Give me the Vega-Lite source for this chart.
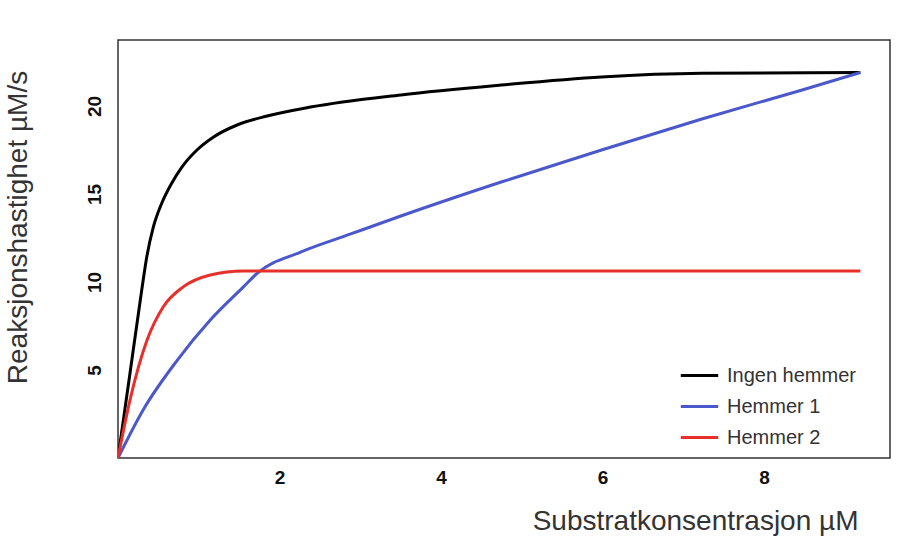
{
  "$schema": "https://vega.github.io/schema/vega-lite/v6.json",
  "width": 772,
  "height": 418,
  "autosize": "none",
  "padding": {"left": 118, "top": 40, "right": 34, "bottom": 91},
  "background": "white",
  "data": {
    "values": [
      {"s": 0, "v": 0, "serie": "Ingen hemmer"},
      {"s": 0.149, "v": 4.83, "serie": "Ingen hemmer"},
      {"s": 0.294, "v": 9.55, "serie": "Ingen hemmer"},
      {"s": 0.356, "v": 11.42, "serie": "Ingen hemmer"},
      {"s": 0.438, "v": 13.13, "serie": "Ingen hemmer"},
      {"s": 0.543, "v": 14.49, "serie": "Ingen hemmer"},
      {"s": 0.667, "v": 15.63, "serie": "Ingen hemmer"},
      {"s": 0.791, "v": 16.53, "serie": "Ingen hemmer"},
      {"s": 0.978, "v": 17.5, "serie": "Ingen hemmer"},
      {"s": 1.184, "v": 18.24, "serie": "Ingen hemmer"},
      {"s": 1.475, "v": 18.92, "serie": "Ingen hemmer"},
      {"s": 1.847, "v": 19.43, "serie": "Ingen hemmer"},
      {"s": 2.385, "v": 19.94, "serie": "Ingen hemmer"},
      {"s": 3.503, "v": 20.63, "serie": "Ingen hemmer"},
      {"s": 4.745, "v": 21.19, "serie": "Ingen hemmer"},
      {"s": 5.988, "v": 21.65, "serie": "Ingen hemmer"},
      {"s": 7.23, "v": 21.86, "serie": "Ingen hemmer"},
      {"s": 9.193, "v": 21.9, "serie": "Ingen hemmer"},
      {"s": 0, "v": 0, "serie": "Hemmer 1"},
      {"s": 0.311, "v": 2.73, "serie": "Hemmer 1"},
      {"s": 0.733, "v": 5.55, "serie": "Hemmer 1"},
      {"s": 1.143, "v": 7.84, "serie": "Hemmer 1"},
      {"s": 1.553, "v": 9.72, "serie": "Hemmer 1"},
      {"s": 1.727, "v": 10.51, "serie": "Hemmer 1"},
      {"s": 2.261, "v": 11.7, "serie": "Hemmer 1"},
      {"s": 2.882, "v": 12.73, "serie": "Hemmer 1"},
      {"s": 3.503, "v": 13.75, "serie": "Hemmer 1"},
      {"s": 4.745, "v": 15.68, "serie": "Hemmer 1"},
      {"s": 5.988, "v": 17.5, "serie": "Hemmer 1"},
      {"s": 7.23, "v": 19.26, "serie": "Hemmer 1"},
      {"s": 8.472, "v": 20.91, "serie": "Hemmer 1"},
      {"s": 9.193, "v": 21.9, "serie": "Hemmer 1"},
      {"s": 0, "v": 0, "serie": "Hemmer 2"},
      {"s": 0.149, "v": 3.3, "serie": "Hemmer 2"},
      {"s": 0.36, "v": 6.7, "serie": "Hemmer 2"},
      {"s": 0.559, "v": 8.58, "serie": "Hemmer 2"},
      {"s": 0.807, "v": 9.72, "serie": "Hemmer 2"},
      {"s": 1.143, "v": 10.4, "serie": "Hemmer 2"},
      {"s": 1.553, "v": 10.63, "serie": "Hemmer 2"},
      {"s": 2.385, "v": 10.63, "serie": "Hemmer 2"},
      {"s": 9.193, "v": 10.63, "serie": "Hemmer 2"}
    ]
  },
  "mark": {"type": "line", "strokeWidth": 3, "interpolate": "monotone", "clip": true},
  "encoding": {
    "x": {
      "field": "s",
      "type": "quantitative",
      "scale": {"domain": [0, 9.56], "nice": false},
      "axis": {
        "values": [2, 4, 6, 8],
        "title": "Substratkonsentrasjon µM",
        "titleFont": "Liberation Sans",
        "titleFontSize": 28,
        "titleFontWeight": "normal",
        "titleColor": "#333333",
        "titleX": 740,
        "titleY": 49,
        "titleAlign": "right",
        "titleBaseline": "top",
        "labelFont": "Liberation Sans",
        "labelFontSize": 19,
        "labelFontWeight": "bold",
        "labelColor": "#111111",
        "labelPadding": 10,
        "ticks": false,
        "domain": false,
        "grid": false
      }
    },
    "y": {
      "field": "v",
      "type": "quantitative",
      "scale": {"domain": [0, 23.75], "nice": false},
      "axis": {
        "values": [5, 10, 15, 20],
        "title": "Reaksjonshastighet µM/s",
        "titleFont": "Liberation Sans",
        "titleFontSize": 28,
        "titleFontWeight": "normal",
        "titleColor": "#333333",
        "titleX": -86,
        "titleY": 187,
        "titleAlign": "center",
        "labelFont": "Liberation Sans",
        "labelFontSize": 19,
        "labelFontWeight": "bold",
        "labelColor": "#111111",
        "labelAngle": 270,
        "labelAlign": "center",
        "labelBaseline": "bottom",
        "labelPadding": 14,
        "ticks": false,
        "domain": false,
        "grid": false
      }
    },
    "color": {
      "field": "serie",
      "type": "nominal",
      "sort": ["Ingen hemmer", "Hemmer 1", "Hemmer 2"],
      "scale": {
        "domain": ["Ingen hemmer", "Hemmer 1", "Hemmer 2"],
        "range": ["#000000", "#4a58cc", "#e8302a"]
      },
      "legend": {
        "title": null,
        "orient": "none",
        "legendX": 561,
        "legendY": 315,
        "symbolType": "stroke",
        "symbolSize": 1400,
        "symbolStrokeWidth": 3,
        "rowPadding": -10,
        "labelFont": "Liberation Sans",
        "labelFontSize": 20,
        "labelColor": "#333333",
        "labelOffset": 7
      }
    }
  },
  "config": {
    "view": {"stroke": "#333333", "strokeWidth": 1.5}
  }
}
